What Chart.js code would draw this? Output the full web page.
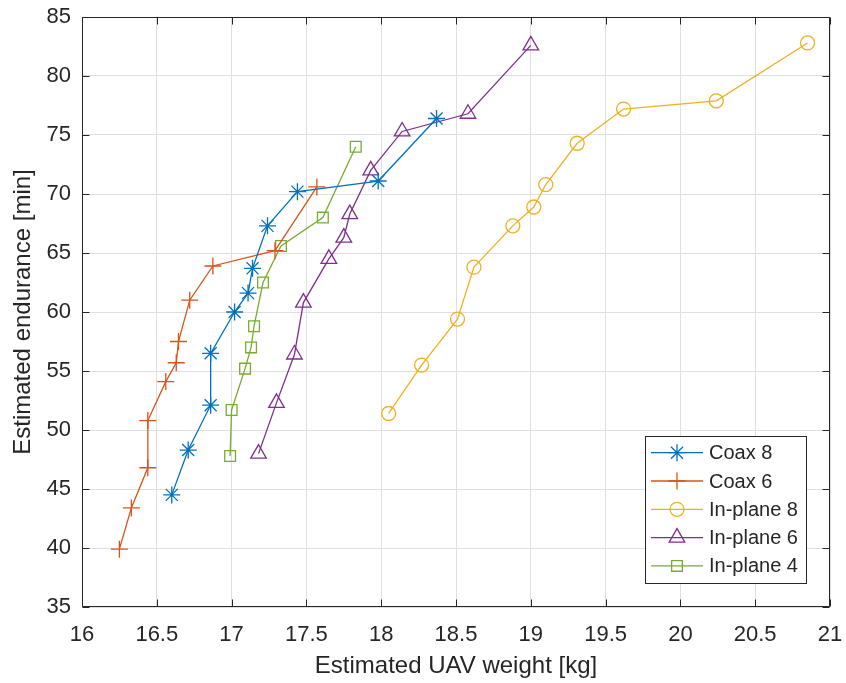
<!DOCTYPE html>
<html>
<head>
<meta charset="utf-8">
<script src="https://cdn.jsdelivr.net/npm/chart.js@4.4.1/dist/chart.umd.min.js"></script>
<style>
  html, body { margin: 0; padding: 0; background: #ffffff; }
  canvas { display: block; }
</style>
</head>
<body>
<canvas id="chart" width="846" height="683"></canvas>
<script>
// Estimated UAV weight [kg] vs estimated endurance [min] for each rotor layout
const seriesNames = ['Coax 8', 'Coax 6', 'In-plane 8', 'In-plane 6', 'In-plane 4'];

const coax8Weight     = [16.60, 16.71, 16.86, 16.86, 17.02, 17.11, 17.14, 17.24, 17.44, 17.98, 18.37];
const coax8Endurance  = [44.5, 48.3, 52.1, 56.5, 60.0, 61.6, 63.7, 67.3, 70.2, 71.1, 76.4];

const coax6Weight     = [16.25, 16.33, 16.44, 16.44, 16.56, 16.63, 16.645, 16.72, 16.875, 17.29, 17.57];
const coax6Endurance  = [39.9, 43.4, 46.8, 50.8, 54.1, 55.7, 57.5, 61.0, 63.9, 65.2, 70.6];

const inplane8Weight    = [18.05, 18.27, 18.51, 18.62, 18.88, 19.02, 19.10, 19.31, 19.62, 20.24, 20.85];
const inplane8Endurance = [51.4, 55.5, 59.4, 63.8, 67.3, 68.9, 70.8, 74.3, 77.2, 77.9, 82.8];

const inplane6Weight    = [17.18, 17.30, 17.42, 17.48, 17.65, 17.75, 17.79, 17.93, 18.14, 18.58, 19.00];
const inplane6Endurance = [48.0, 52.3, 56.4, 60.8, 64.5, 66.3, 68.3, 72.0, 75.3, 76.8, 82.6];

const inplane4Weight    = [16.99, 17.00, 17.09, 17.13, 17.15, 17.21, 17.33, 17.61, 17.83];
const inplane4Endurance = [47.8, 51.7, 55.2, 57.0, 58.8, 62.5, 65.6, 68.0, 74.0];

const xTickValues = [16, 16.5, 17, 17.5, 18, 18.5, 19, 19.5, 20, 20.5, 21];
const yTickValues = [35, 40, 45, 50, 55, 60, 65, 70, 75, 80, 85];

const AXIS_COLOR = '#262626';
const GRID_COLOR = '#dfdfdf';
const FONT_FAMILY = "'Liberation Sans', Arial, Helvetica, sans-serif";

function toPoints(xs, ys) {
  return xs.map((x, i) => ({ x: x, y: ys[i] }));
}

function series(label, xs, ys, color, style, radius) {
  return {
    label: label,
    data: toPoints(xs, ys),
    showLine: true,
    borderColor: color,
    borderWidth: 1.3,
    backgroundColor: color,
    pointStyle: style,
    pointRadius: radius,
    pointHoverRadius: radius,
    pointBorderColor: color,
    pointBackgroundColor: 'rgba(0,0,0,0)',
    pointBorderWidth: 1.3,
    pointHoverBorderWidth: 1.3,
    tension: 0,
    fill: false
  };
}

// Fixed axis band sizes; the plot box is not shrunk for edge tick labels
function fixScale(size) {
  return s => {
    if (s.isHorizontal()) s.height = size; else s.width = size;
    s.paddingTop = 0; s.paddingBottom = 0;
    s.paddingLeft = 0; s.paddingRight = 0;
  };
}

// Axes box with inward tick marks on all four sides
const axesBox = {
  id: 'axesBox',
  beforeDatasetsDraw(chart) {
    const { ctx, chartArea: a, scales } = chart;
    const L = Math.round(a.left) + 0.5, R = Math.round(a.right) - 0.5;
    const T = Math.round(a.top) + 0.5, B = Math.round(a.bottom) - 0.5;
    const len = 7;
    ctx.save();
    ctx.strokeStyle = AXIS_COLOR;
    ctx.lineWidth = 1;
    ctx.beginPath();
    ctx.rect(L, T, R - L, B - T);
    xTickValues.forEach(v => {
      const px = Math.round(scales.x.getPixelForValue(v)) + 0.5;
      ctx.moveTo(px, B); ctx.lineTo(px, B - len);
      ctx.moveTo(px, T); ctx.lineTo(px, T + len);
    });
    yTickValues.forEach(v => {
      const py = Math.round(scales.y.getPixelForValue(v)) + 0.5;
      ctx.moveTo(L, py); ctx.lineTo(L + len, py);
      ctx.moveTo(R, py); ctx.lineTo(R - len, py);
    });
    ctx.stroke();
    ctx.restore();
  }
};

// Boxed legend in the lower right corner of the plot
const boxLegend = {
  id: 'boxLegend',
  afterDraw(chart, args, opts) {
    const ctx = chart.ctx;
    ctx.save();
    ctx.fillStyle = '#ffffff';
    ctx.strokeStyle = AXIS_COLOR;
    ctx.lineWidth = 1;
    ctx.fillRect(opts.left, opts.top, opts.width, opts.height);
    ctx.strokeRect(opts.left + 0.5, opts.top + 0.5, opts.width, opts.height);
    ctx.font = opts.fontSize + 'px ' + FONT_FAMILY;
    ctx.textBaseline = 'middle';
    ctx.textAlign = 'left';
    chart.data.datasets.forEach((ds, i) => {
      const y = opts.firstRow + i * opts.rowStep;
      const x0 = opts.left + opts.lineStart, x1 = opts.left + opts.lineEnd;
      ctx.strokeStyle = ds.borderColor;
      ctx.lineWidth = ds.borderWidth;
      ctx.beginPath();
      ctx.moveTo(x0, y); ctx.lineTo(x1, y);
      ctx.stroke();
      ctx.fillStyle = 'rgba(0,0,0,0)';
      ctx.lineWidth = ds.pointBorderWidth;
      if (Chart.helpers && Chart.helpers.drawPoint) {
        Chart.helpers.drawPoint(ctx, {
          pointStyle: ds.pointStyle, rotation: 0,
          radius: ds.pointRadius, borderWidth: ds.pointBorderWidth
        }, (x0 + x1) / 2, y);
      }
      ctx.fillStyle = AXIS_COLOR;
      ctx.fillText(ds.label, opts.left + opts.textStart, y + 1);
    });
    ctx.restore();
  }
};

const datasets = [
  series(seriesNames[0], coax8Weight, coax8Endurance, '#0072BD', 'star', 8.5),
  series(seriesNames[1], coax6Weight, coax6Endurance, '#D95319', 'cross', 8.5),
  series(seriesNames[2], inplane8Weight, inplane8Endurance, '#EDB120', 'circle', 7),
  series(seriesNames[3], inplane6Weight, inplane6Endurance, '#7E2F8E', 'triangle', 9),
  series(seriesNames[4], inplane4Weight, inplane4Endurance, '#77AC30', 'rect', 7.6)
];

new Chart(document.getElementById('chart'), {
  type: 'scatter',
  data: { datasets: datasets },
  plugins: [axesBox, boxLegend],
  options: {
    responsive: false,
    animation: false,
    devicePixelRatio: 1,
    layout: { autoPadding: false, padding: { top: 17, right: 16, left: 0, bottom: 0 } },
    font: { family: FONT_FAMILY },
    plugins: {
      legend: { display: false },
      tooltip: { enabled: false },
      boxLegend: {
        left: 645, top: 436, width: 161, height: 147,
        firstRow: 452.7, rowStep: 28.3,
        lineStart: 6, lineEnd: 58, textStart: 64,
        fontSize: 20
      }
    },
    scales: {
      x: {
        type: 'linear',
        min: 16, max: 21,
        afterBuildTicks: s => { s.ticks = xTickValues.map(v => ({ value: v })); },
        afterFit: fixScale(76),
        grid: { color: GRID_COLOR, lineWidth: 1, drawTicks: false },
        border: { display: false },
        ticks: {
          font: { size: 22, family: FONT_FAMILY },
          color: AXIS_COLOR, padding: 15,
          maxRotation: 0, autoSkip: false,
          callback: v => String(v)
        },
        title: {
          display: true, text: 'Estimated UAV weight [kg]',
          font: { size: 24, family: FONT_FAMILY }, color: AXIS_COLOR,
          padding: { top: 0, bottom: 2 }
        }
      },
      y: {
        type: 'linear',
        min: 35, max: 85,
        afterBuildTicks: s => { s.ticks = yTickValues.map(v => ({ value: v })); },
        afterFit: fixScale(82),
        grid: { color: GRID_COLOR, lineWidth: 1, drawTicks: false },
        border: { display: false },
        ticks: {
          font: { size: 22, family: FONT_FAMILY },
          color: AXIS_COLOR, padding: 11,
          autoSkip: false,
          callback: v => String(v)
        },
        title: {
          display: true, text: 'Estimated endurance [min]',
          font: { size: 24, family: FONT_FAMILY }, color: AXIS_COLOR,
          padding: { top: 9, bottom: 0 }
        }
      }
    }
  }
});
</script>
</body>
</html>
